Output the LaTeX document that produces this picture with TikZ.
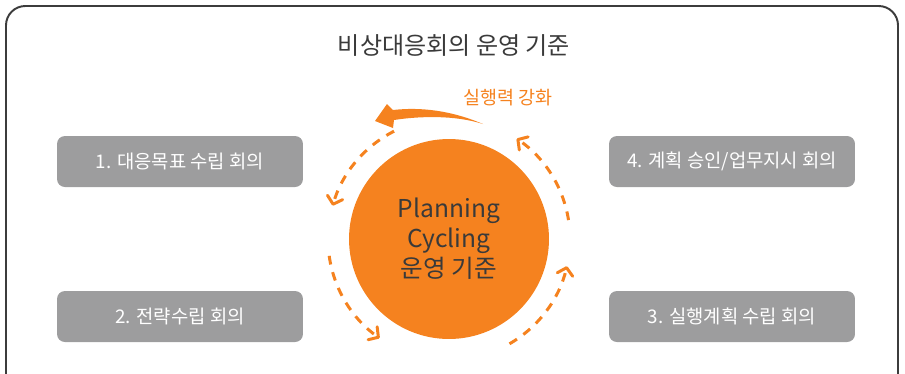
\documentclass[tikz,border=0pt]{standalone}
\usepackage{fontspec}
\setmainfont{Noto Sans CJK KR}
\usetikzlibrary{arrows.meta,calc}
\definecolor{CycleClr}{HTML}{F5821F}
\definecolor{BoxClr}{HTML}{9D9D9E}
\definecolor{FrameClr}{HTML}{3C3C3C}
\definecolor{TextClr}{HTML}{3A3A3A}

\begin{document}
\begin{tikzpicture}[x=0.02cm,y=-0.02cm,
  meeting/.style={fill=BoxClr,rounded corners=4.5pt,minimum width=4.92cm,minimum height=1.02cm,
    inner sep=0pt,text=white,font=\fontsize{10.7}{12}\selectfont},
  cycarrow/.style={draw=CycleClr,line width=1.7pt,dash pattern=on 5pt off 4.5pt,
    -{Straight Barb[length=4pt,width=9pt,round]}}]
\useasboundingbox (0,0) rectangle (905,373);
\clip (0,0) rectangle (905,373);

\draw[FrameClr,line width=1.1pt,rounded corners=11pt] (6,6) rectangle (898,420);
\node[text=TextClr,font=\fontsize{13.7}{16}\selectfont] (title) at (454,45) {비상대응회의 운영 기준};

\node[meeting] (m1) at (180,161.5) {1. 대응목표 수립 회의};
\node[meeting] (m2) at (180,316.5) {2. 전략수립 회의};
\node[meeting] (m3) at (732,316.5) {3. 실행계획 수립 회의};
\node[meeting] (m4) at (732,161.5) {4. 계획 승인/업무지시 회의};

\node[circle,fill=CycleClr,minimum size=4cm,inner sep=0pt,text=TextClr,align=center,
  font=\fontsize{14}{17}\selectfont] (core) at (449,239) {Planning\\Cycling\\운영 기준};

\foreach \a in {117,188,300,9}
  \draw[cycarrow] (core.center) ++(-\a:121) arc[start angle=-\a,end angle=-\a-47,radius=121];

\node[text=CycleClr,font=\fontsize{10.5}{12}\selectfont] (gain) at (508,98) {실행력 강화};
\fill[CycleClr] (483,124) .. controls (450,110) and (420,107) .. (393,110) -- (387,104)
  -- (375,121) -- (393,128) -- (394,120) .. controls (420,116) and (455,115) .. (483,124) -- cycle;

\end{tikzpicture}
\end{document}
